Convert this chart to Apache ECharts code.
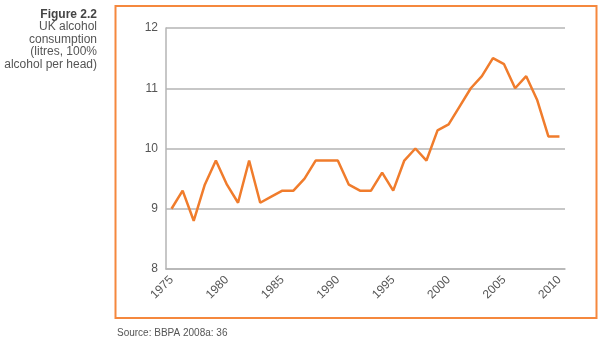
<!DOCTYPE html>
<html>
<head>
<meta charset="utf-8">
<script src="https://cdn.jsdelivr.net/npm/echarts@6/dist/echarts.min.js"></script>
<style>html,body{margin:0;padding:0;background:#fff;}#c{width:603px;height:342px;}</style>
</head>
<body>
<div id="c"></div>
<script>
var years = ['1975','1976','1977','1978','1979','1980','1981','1982','1983','1984','1985','1986','1987','1988','1989','1990','1991','1992','1993','1994','1995','1996','1997','1998','1999','2000','2001','2002','2003','2004','2005','2006','2007','2008','2009','2010'];
var consumption = [9.0,9.3,8.8,9.4,9.8,9.4,9.1,9.8,9.1,9.2,9.3,9.3,9.5,9.8,9.8,9.8,9.4,9.3,9.3,9.6,9.3,9.8,10.0,9.8,10.3,10.4,10.7,11.0,11.2,11.5,11.4,11.0,11.2,10.8,10.2,10.2];
var titleLines = ['UK alcohol','consumption','(litres, 100%','alcohol per head)'];
var sourceText = 'Source: BBPA 2008a: 36';

var chart = echarts.init(document.getElementById('c'), null, {renderer:'canvas'});
var font = '"Liberation Sans", Arial, sans-serif';
var graphics = [
  {type: 'rect', shape: {x: 115.5, y: 6, width: 481, height: 312}, style: {fill: 'none', stroke: '#f5883e', lineWidth: 2}, silent: true},
  {type: 'text', x: 97, y: 8.5, style: {text: 'Figure 2.2', font: 'bold 12px ' + font, fill: '#444', align: 'right', verticalAlign: 'top'}},
  {type: 'text', left: 117, top: 328, style: {text: sourceText, font: '10px ' + font, fill: '#555'}}
];
titleLines.forEach(function (t, i) {
  graphics.push({type: 'text', x: 97, y: 20.5 + i * 12.7, style: {text: t, font: '12px ' + font, fill: '#555', align: 'right', verticalAlign: 'top'}});
});
chart.setOption({
  animation: false,
  backgroundColor: '#fff',
  textStyle: {fontFamily: font},
  grid: {left: 166, top: 28, right: 38, bottom: 73, containLabel: false},
  xAxis: {
    type: 'category',
    data: years,
    boundaryGap: true,
    axisLine: {show: true, lineStyle: {color: '#b5b5b5', width: 1.5}},
    axisTick: {show: false},
    axisLabel: {interval: 4, rotate: 45, color: '#555', fontSize: 12, fontFamily: font, margin: 9}
  },
  yAxis: {
    type: 'value',
    min: 8, max: 12, interval: 1,
    axisLine: {show: true, lineStyle: {color: '#b5b5b5', width: 1.5}},
    axisTick: {show: false},
    splitLine: {show: true, lineStyle: {color: '#b5b5b5', width: 1.5}},
    axisLabel: {color: '#555', fontSize: 12, fontFamily: font, margin: 8}
  },
  series: [{
    type: 'line',
    data: consumption,
    symbol: 'none',
    lineStyle: {color: '#f07c2c', width: 2.5},
    itemStyle: {color: '#f07c2c'}
  }],
  graphic: graphics
});
</script>
</body>
</html>
